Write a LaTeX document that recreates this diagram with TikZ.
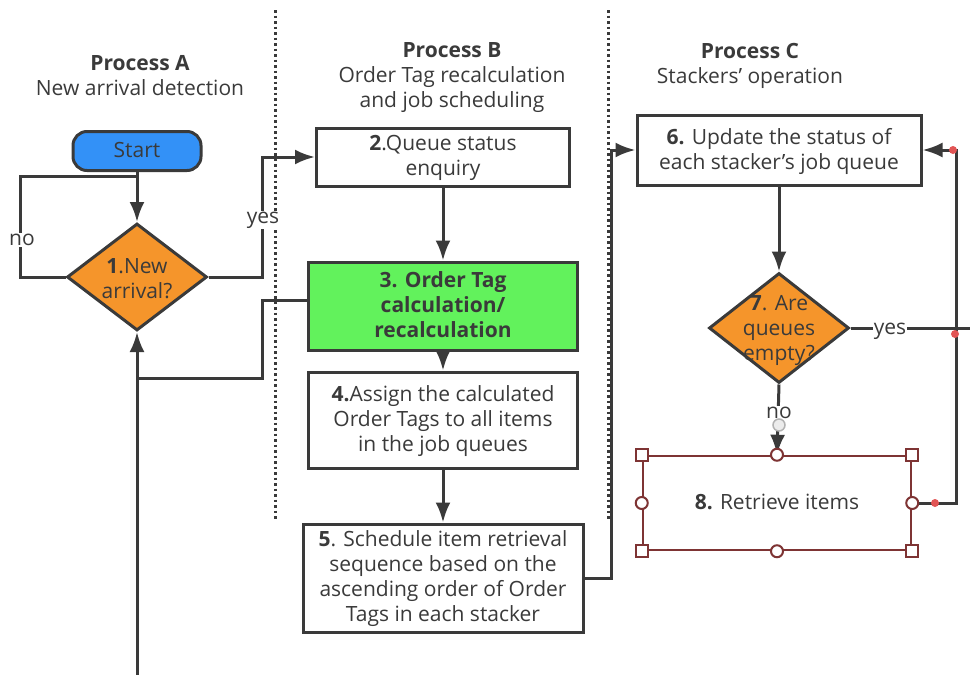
\documentclass[tikz,border=0pt]{standalone}
\usepackage{fontspec}
\setmainfont{Open Sans}
\usetikzlibrary{shapes.geometric, arrows.meta, calc}
\usepackage{xcolor}
\definecolor{linegray}{HTML}{3A3A3A}
\definecolor{startblue}{HTML}{3391F7}
\definecolor{decorange}{HTML}{F5952B}
\definecolor{calcgreen}{HTML}{62F25C}
\definecolor{selred}{HTML}{7E3434}
\definecolor{dotred}{HTML}{E25555}

\begin{document}
\begin{tikzpicture}[x=1pt,y=-1pt,>={Latex[length=20pt,width=15pt]},
    every node/.style={font=\fontsize{21}{25}\selectfont, text=linegray},
    proc/.style={draw=linegray, line width=3pt, fill=white, align=center, inner sep=0pt, text depth=3pt},
    decision/.style={diamond, draw=linegray, line width=3pt, fill=decorange, inner sep=0pt},
    conn/.style={draw=linegray, line width=3pt},
    lbl/.style={fill=white, inner sep=1pt},
    handlebox/.style={draw=selred, line width=2pt, fill=white, minimum size=12pt, inner sep=0pt},
    handlecirc/.style={circle, draw=selred, line width=2pt, fill=white, minimum size=12pt, inner sep=0pt},
    reddot/.style={circle, fill=dotred, minimum size=8pt, inner sep=0pt}]

            \useasboundingbox (0,0) rectangle (970,675);

            % draw the lane separators
            \draw[line width=3pt, linegray, dash pattern=on 2.5pt off 3pt] (275,10) -- (275,520);
            \draw[line width=3pt, linegray, dash pattern=on 2.5pt off 3pt] (608,10) -- (608,520);

            % lane headings
            \node[align=center] (headA) at (140,76) {\textbf{Process A}\\New arrival detection};
            \node[align=center] (headB) at (452,78) {\textbf{Process B}\\Order Tag recalculation\\and job scheduling};
            \node[align=center] (headC) at (750,66) {\textbf{Process C}\\Stackers' operation};

            % process A
            \node[proc, rounded corners=14pt, fill=startblue, minimum width=128pt, minimum height=39pt] (start) at (137,151) {Start};
            \node[decision, minimum width=140pt, minimum height=107pt] (d1) at (137,277) {};
            \node[align=center] (d1text) at (137,279) {\textbf{1}.New\\arrival?};

            % process B
            \node[proc, minimum width=253pt, minimum height=58pt] (b2) at (443,157) {\textbf{2}.Queue status\\enquiry};
            \node[proc, fill=calcgreen, minimum width=269pt, minimum height=88pt, font=\fontsize{21}{25}\selectfont\bfseries] (b3) at (443,306) {3. Order Tag\\calculation/\\recalculation};
            \node[proc, minimum width=269pt, minimum height=96pt] (b4) at (443,420) {\textbf{4.}Assign the calculated\\Order Tags to all items\\in the job queues};
            \node[proc, minimum width=280pt, minimum height=108pt] (b5) at (443,578) {\textbf{5}. Schedule item retrieval\\sequence based on the\\ascending order of Order\\Tags in each stacker};

            % process C
            \node[proc, minimum width=284pt, minimum height=70pt] (b6) at (779,150) {\textbf{6.} Update the status of\\each stacker's job queue};
            \node[decision, minimum width=140pt, minimum height=110pt] (d7) at (779,328) {};
            \node[align=center] (d7text) at (779,330) {\textbf{7}. Are\\queues\\empty?};
            \node[proc, draw=selred, line width=2.5pt, minimum width=268pt, minimum height=94pt] (b8) at (777,503) {\textbf{8.} Retrieve items};

            % connectors of process A
            \draw[conn, ->] (start) -- (d1);
            \coordinate (noA) at (20,176);
            \draw[conn] (d1.west) -| (noA) -- (start.south |- noA);
            \node[lbl] (no1) at (22,240) {no};
            \draw[conn, ->] (d1.east) -- ++(54,0) |- (b2.west);
            \node[lbl] (yes1) at (263,220) {yes};

            % connectors of process B
            \draw[conn, ->] (b2) -- (b3);
            \draw[conn, ->] (b3) -- (b4);
            \draw[conn, ->] (b4) -- (b5);
            \coordinate (bottom) at (137,675);
            \coordinate (join) at (137,378);
            \draw[conn] (bottom) -- (join);
            \draw[conn, ->] ([yshift=6pt]b3.west) -- ++(-45,0) |- (join) -- (d1.south);
            \draw[conn, ->] (b5.east) -- ++(27,0) |- (b6.west);

            % connectors of process C
            \draw[conn, ->] (b6) -- (d7);
            \coordinate (yesEnd) at (970,328);
            \draw[conn] (d7.east) -- (yesEnd);
            \node[lbl] (yes7) at (890,331) {yes};
            \draw[conn, ->] (d7.south) -- (b8.north);
            \node[lbl] (no7) at (779,413) {no};
            \draw[conn, ->] (b8.east) -- ++(44,0) |- (b6.east);

            % selection handles around box 8
            \node[circle, draw=gray!60, fill=gray!15, line width=1.5pt, minimum size=12pt, inner sep=0pt] (grab) at (779,425) {};
            \foreach \corner in {north west, north east, south west, south east}
                \node[handlebox] at (b8.\corner) {};
            \foreach \side in {north, south, east, west}
                \node[handlecirc] at (b8.\side) {};

            % red anchor dots
            \node[reddot] (dotA) at (953,150) {};
            \node[reddot] (dotB) at (955,334) {};
            \node[reddot] (dotC) at (935,503) {};
\end{tikzpicture}
\end{document}
